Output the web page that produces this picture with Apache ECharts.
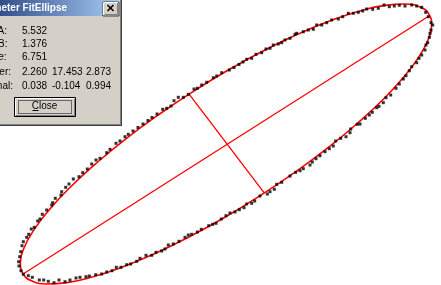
<!DOCTYPE html>
<html>
<head>
<meta charset="utf-8">
<script src="https://cdn.jsdelivr.net/npm/echarts@6/dist/echarts.min.js"></script>
<style>
    html, body { margin: 0; padding: 0; background: #fff; }
    #contain { width: 441px; height: 285px; }
</style>
</head>
<body>
<div id="contain"></div>
<script>
// measured edge points (screen units of the picture)
let edgePoints = [
    [19, 266], [18.7, 261.7], [19.7, 256.7], [20.7, 251.7], [22, 245.7], [23.3, 241.7], [26.7, 237.3], [28.7, 234.3],
    [31.3, 229], [34.3, 227.3], [37.7, 221], [40, 219], [42.3, 214.3], [46.7, 210], [51.7, 205], [52.7, 202.7],
    [55.3, 198.3], [61, 195], [61.7, 191.7], [65.7, 187.3], [69, 184], [73.3, 179], [79, 176.7], [82.7, 172.7],
    [87.3, 169], [91.7, 164], [96, 160], [100, 158.3], [106.7, 152.7], [110, 149.3], [116, 143.3], [120, 141],
    [125, 136.7], [128.3, 134.3], [133, 131], [138, 127.5], [143, 124], [148, 120.5], [152, 117.5], [157, 114],
    [162.7, 109.3], [166.7, 108.3], [171, 106], [174, 100.7], [178.3, 97.3], [183.3, 97.3], [188.3, 94.3], [194, 89],
    [197.3, 88.3], [201.7, 85], [206.7, 82.3], [213.3, 77.7], [216.7, 76], [221.7, 72.7], [229.3, 70], [234, 67.5],
    [239, 64.5], [243, 62], [246.7, 59.3], [251.7, 58.3], [256, 54.3], [261.7, 52.7], [266, 49], [270, 48.3],
    [273.3, 45], [278.3, 44], [281.7, 42.7], [285, 40], [290, 38.3], [295, 34.3], [296.7, 33.3], [303.3, 31.7],
    [308.3, 30], [313.3, 29.3], [316.7, 25], [321.7, 25], [326.7, 22.7], [331.7, 20], [338.3, 19], [342.7, 16.7],
    [348.3, 13.3], [353.3, 13.3], [358.3, 12.3], [362.7, 11], [366.7, 9], [372.7, 9.3], [378.3, 8.3], [384, 5],
    [389.3, 6.7], [394.3, 6], [399.3, 5.3], [405, 6], [411.7, 5], [416.7, 6], [421.7, 7.3], [425.7, 12.3],
    [428.3, 16.7], [431, 22.7], [432.7, 25], [431, 30], [430, 33.3], [429.3, 37.3], [427.7, 42.7], [426, 45],
    [425, 50], [421.7, 55], [419, 58.3], [416.7, 62.7], [411.7, 66.7], [409.3, 70.7], [406, 75.7], [403.3, 79],
    [399.3, 84], [396, 88.3], [390.7, 95], [386, 97.7], [383.3, 102.7], [379, 106.3], [376.7, 107.7], [372.3, 112.3],
    [369.3, 115], [365.3, 118.3], [360, 124], [357.3, 124.3], [350.7, 129], [350, 132.7], [346, 136.7], [340.7, 138.3],
    [335.7, 141], [333.3, 146], [329.3, 148.7], [325, 151.7], [320, 155.7], [316, 158.7], [312.3, 162], [310, 165],
    [303.3, 168.7], [300, 170.7], [295.7, 172.3], [290, 176], [281.7, 182.3], [276.7, 184.3], [274.3, 189.3], [270, 191.7],
    [267.3, 194], [260, 196], [254.7, 201], [251.7, 203.3], [246.7, 204], [244, 207.7], [239.3, 209.7], [235, 212],
    [230, 213], [226, 215.7], [221.3, 219], [216, 223.3], [212.7, 224.3], [208.7, 225.7], [201.3, 229.3], [197.3, 232],
    [191.7, 234.3], [188.3, 235], [185, 237.3], [179, 241.3], [173.3, 244], [168.3, 245], [165, 249], [161.7, 251],
    [156, 252.3], [151.7, 255.3], [146, 255.3], [140, 258.3], [136.7, 261.3], [130.7, 264], [126.7, 264.7], [121, 267.3],
    [116.3, 267.3], [112, 270.7], [106.7, 272], [101.7, 274], [95.7, 274.7], [89.3, 276], [86, 276.7], [80, 277.3],
    [76, 278], [70, 280], [65, 281.7], [59, 280], [54, 282.7], [48.3, 281.3], [43.7, 280], [39.3, 280],
    [32.3, 277.3], [28.3, 275.7], [23.3, 274.3], [21, 270.7]
];

// fitted ellipse outline, read around the red curve
let fitCurve = [
    [259.4, 196.2], [223.7, 218.0], [188.0, 237.5], [153.4, 254.2], [121.2, 267.5], [92.1, 277.1], [67.0, 282.6], [46.7, 284.0],
    [32.0, 281.0], [23.1, 273.9], [20.4, 262.8], [23.9, 248.2], [33.6, 230.4], [49.1, 209.9], [70.0, 187.5], [95.6, 163.8],
    [125.2, 139.3], [157.9, 115.2], [192.6, 91.8], [228.3, 70.0], [264.0, 50.5], [298.6, 33.8], [330.8, 20.5], [359.9, 10.9],
    [385.0, 5.4], [405.3, 4.0], [420.0, 7.0], [428.9, 14.1], [431.6, 25.2], [428.1, 39.8], [418.4, 57.6], [402.9, 78.1],
    [382.0, 100.5], [356.4, 124.2], [326.8, 148.7], [294.1, 172.8], [259.4, 196.2]
];

let majorAxis = [[22.7, 274.3], [429, 16]];
let minorAxis = [[189.3, 94.3], [264, 192.7]];

let dialogTitle = 'Parameter FitEllipse';
let paramNames = ['Axis A:', 'Axis B:', 'Angle:', 'Center:', 'Normal:'];
let paramValues = [
    ['5.532'],
    ['1.376'],
    ['6.751'],
    ['2.260', '17.453', '2.873'],
    ['0.038', '-0.104', '0.994']
];

let nameRight = [7, 7.5, 6.5, 11, 13];
let rowY = [31, 44, 57.3, 72.7, 86];
let colX = [22, 52, 86];
let uiFont = '"Liberation Sans", Arial, sans-serif';

let dialog = [
    { type: 'rect', shape: { x: -40, y: -4, width: 162, height: 130 }, style: { fill: '#D4D0C8' } },
    {
        type: 'rect', shape: { x: -40, y: -3, width: 158, height: 19 },
        style: {
            fill: new echarts.graphic.LinearGradient(0, 0, 1, 0, [
                { offset: 0, color: '#0A246A' },
                { offset: 1, color: '#A6CAF0' }
            ])
        }
    },
    { type: 'line', shape: { x1: 120.5, y1: -4, x2: 120.5, y2: 125 }, style: { stroke: '#808080', lineWidth: 1 } },
    { type: 'line', shape: { x1: 121.5, y1: -4, x2: 121.5, y2: 126 }, style: { stroke: '#404040', lineWidth: 1 } },
    { type: 'line', shape: { x1: -40, y1: 124.5, x2: 121, y2: 124.5 }, style: { stroke: '#808080', lineWidth: 1 } },
    { type: 'line', shape: { x1: -40, y1: 125.5, x2: 122, y2: 125.5 }, style: { stroke: '#404040', lineWidth: 1 } },
    {
        type: 'text', x: 67, y: 8.5,
        style: { text: dialogTitle, fill: '#fff', font: 'bold 10px ' + uiFont, align: 'right', verticalAlign: 'middle' }
    },
    // title close box
    { type: 'rect', shape: { x: 103, y: 2, width: 16, height: 14 }, style: { fill: '#D4D0C8', stroke: '#404040', lineWidth: 1 } },
    { type: 'polyline', shape: { points: [[103.5, 15], [103.5, 2.5], [118, 2.5]] }, style: { stroke: '#fff', fill: null, lineWidth: 1 } },
    { type: 'polyline', shape: { points: [[104.5, 14.5], [117.5, 14.5], [117.5, 3]] }, style: { stroke: '#808080', fill: null, lineWidth: 1 } },
    { type: 'line', shape: { x1: 107.5, y1: 5, x2: 113.5, y2: 11 }, style: { stroke: '#000', lineWidth: 1.6 } },
    { type: 'line', shape: { x1: 113.5, y1: 5, x2: 107.5, y2: 11 }, style: { stroke: '#000', lineWidth: 1.6 } },
    // close button
    { type: 'rect', shape: { x: 14.5, y: 97.5, width: 61, height: 19 }, style: { fill: '#D4D0C8', stroke: '#000', lineWidth: 1 } },
    { type: 'polyline', shape: { points: [[15.5, 115], [15.5, 98.5], [74.5, 98.5]] }, style: { stroke: '#fff', fill: null, lineWidth: 1 } },
    { type: 'polyline', shape: { points: [[16, 115.5], [74.5, 115.5], [74.5, 99]] }, style: { stroke: '#808080', fill: null, lineWidth: 1 } },
    { type: 'rect', shape: { x: 18.5, y: 100.5, width: 53, height: 13 }, style: { fill: null, stroke: '#000', lineWidth: 1, lineDash: [1, 1] } },
    { type: 'text', x: 44.5, y: 106, style: { text: 'Close', fill: '#000', font: '10px ' + uiFont, align: 'center', verticalAlign: 'middle' } },
    { type: 'line', shape: { x1: 32.5, y1: 110.5, x2: 38.5, y2: 110.5 }, style: { stroke: '#000', lineWidth: 1 } }
];

paramNames.forEach(function (name, i) {
    dialog.push({
        type: 'text', x: nameRight[i], y: rowY[i],
        style: { text: name, fill: '#000', font: '10px ' + uiFont, align: 'right', verticalAlign: 'middle' }
    });
    paramValues[i].forEach(function (v, j) {
        dialog.push({
            type: 'text', x: colX[j], y: rowY[i],
            style: { text: v, fill: '#000', font: '10px ' + uiFont, align: 'left', verticalAlign: 'middle' }
        });
    });
});

let chart = echarts.init(document.getElementById('contain'));
let option = {
    backgroundColor: '#fff',
    animation: false,
    grid: { left: 0, right: 0, top: 0, bottom: 0, containLabel: false },
    xAxis: { type: 'value', min: 0, max: 441, show: false },
    yAxis: { type: 'value', min: 0, max: 285, inverse: true, show: false },
    series: [
        {
            name: 'fit',
            type: 'line',
            data: fitCurve,
            smooth: 0.5,
            symbol: 'none',
            clip: false,
            lineStyle: { color: '#FF0000', width: 1.6 },
            z: 2
        },
        {
            name: 'major',
            type: 'line',
            data: majorAxis,
            symbol: 'none',
            lineStyle: { color: '#FF0000', width: 1.3 },
            z: 2
        },
        {
            name: 'minor',
            type: 'line',
            data: minorAxis,
            symbol: 'none',
            lineStyle: { color: '#FF0000', width: 1.3 },
            z: 2
        },
        {
            name: 'points',
            type: 'scatter',
            data: edgePoints,
            symbol: 'rect',
            symbolSize: 3,
            itemStyle: { color: '#000' },
            z: 3
        }
    ],
    graphic: { elements: dialog }
};
chart.setOption(option);
</script>
</body>
</html>
